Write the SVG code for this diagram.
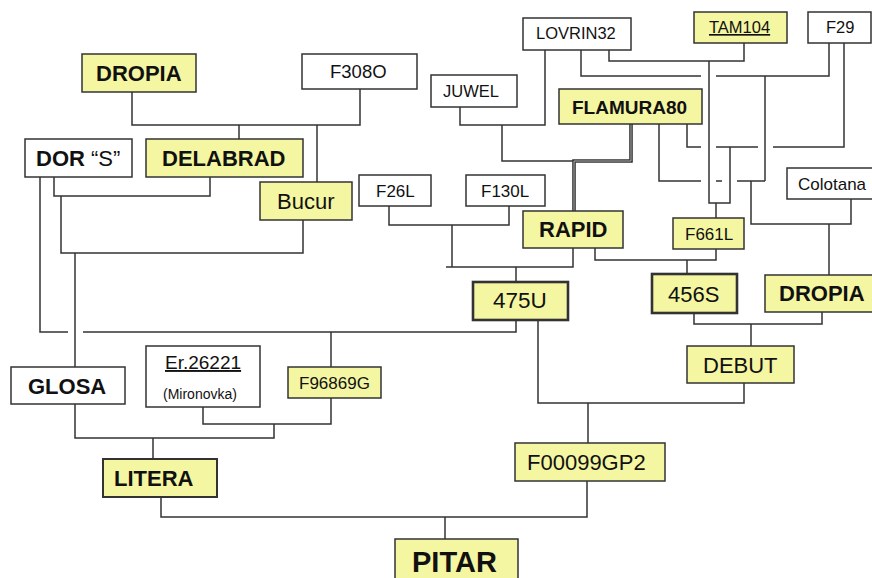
<svg xmlns="http://www.w3.org/2000/svg" width="872" height="578" viewBox="0 0 872 578">
<style>
.w{fill:#ffffff;stroke:#333;stroke-width:1.5}
.y{fill:#f4f6a2;stroke:#333;stroke-width:1.5}
.t{stroke-width:2.6}
text{font-family:"Liberation Sans",Arial,sans-serif;fill:#111}
.b{font-weight:bold;font-size:22px}
.n{font-size:17px}
.m{font-size:22px}
.c path{fill:none;stroke:#333;stroke-width:1.5}
</style>
<rect width="872" height="578" fill="#fff"/>
<g class="c" id="connectors">
<path d="M132,92V125H360V89"/>
<path d="M239,125V139"/>
<path d="M317,125V182"/>
<path d="M54,177V196H210V177"/>
<path d="M61,196V253H303V220"/>
<path d="M75,253V367"/>
<path d="M40,177V332H68M83,332H516V320"/>
<path d="M331,332V367"/>
<path d="M203,407V424H331V398"/>
<path d="M75,404V438H274V424"/>
<path d="M153,438V459"/>
<path d="M161,497V517H587V481"/>
<path d="M445,517V539"/>
<path d="M538,320V403H744V383"/>
<path d="M588,403V443"/>
<path d="M694,313V324H822V312"/>
<path d="M751,324V346"/>
<path d="M389,206V225H509V206"/>
<path d="M452,225V267"/>
<path d="M446,267H573V248"/>
<path d="M516,267V282"/>
<path d="M595,248V260H716V249"/>
<path d="M687,260V274"/>
<path d="M460,107V125H545V50"/>
<path d="M502,125V161H573"/>
<path d="M631,124V161H574V211" style="stroke-width:3.6"/>
<path d="M631,124V161H574V211" style="stroke:#bbb;stroke-width:0.9"/>
<path d="M609,50V61H744V43"/>
<path d="M709,61V203H730V147"/>
<path d="M716,203V218"/>
<path d="M687,124V147H701M716,147H758M773,147H844V43"/>
<path d="M581,50V76H701M716,76H829V43"/>
<path d="M765,76V181"/>
<path d="M659,124V181H701M716,181H722M737,181H765"/>
<path d="M751,181V224H851V199"/>
<path d="M829,224V275"/>
</g>
<g id="LOVRIN32"><rect class="w" x="523" y="18" width="108" height="32"/><text class="n" x="536" y="39" style="font-size:16.5px">LOVRIN32</text></g>
<g id="TAM104"><rect class="y" x="694" y="12" width="93" height="31"/><text class="n" x="709" y="33" style="font-size:16.5px;text-decoration:underline">TAM104</text></g>
<g id="F29"><rect class="w" x="808" y="12" width="63" height="31"/><text class="n" x="826" y="33" style="font-size:16.5px">F29</text></g>
<g id="JUWEL"><rect class="w" x="431" y="75" width="86" height="32"/><text class="n" x="443" y="97" style="font-size:16.5px">JUWEL</text></g>
<g id="FLAMURA80"><rect class="y" x="559" y="89" width="143" height="35"/><text class="b" x="572" y="114" style="font-size:19px">FLAMURA80</text></g>
<g id="DROPIA1"><rect class="y" x="82" y="54" width="114" height="38"/><text class="b" x="96" y="81">DROPIA</text></g>
<g id="F308O"><rect class="w" x="302" y="54" width="115" height="35"/><text class="n" x="330" y="78" style="font-size:18.5px">F308O</text></g>
<g id="DOR_S"><rect class="w" x="25" y="139" width="107" height="38"/><text class="m" x="36" y="166"><tspan font-weight="bold">DOR</tspan> “S”</text></g>
<g id="DELABRAD"><rect class="y" x="146" y="139" width="157" height="38"/><text class="b" x="162" y="166">DELABRAD</text></g>
<g id="Bucur"><rect class="y" x="260" y="182" width="92" height="38"/><text class="m" x="277" y="209">Bucur</text></g>
<g id="F26L"><rect class="w" x="359" y="175" width="72" height="31"/><text class="n" x="376" y="197">F26L</text></g>
<g id="F130L"><rect class="w" x="466" y="175" width="79" height="31"/><text class="n" x="481" y="197">F130L</text></g>
<g id="RAPID"><rect class="y" x="523" y="211" width="100" height="37"/><text class="b" x="539" y="237">RAPID</text></g>
<g id="Colotana"><rect class="w" x="787" y="168" width="86" height="31"/><text class="n" x="798" y="190">Colotana</text></g>
<g id="F661L"><rect class="y" x="673" y="218" width="71" height="31"/><text class="n" x="685" y="240">F661L</text></g>
<g id="U475"><rect class="y t" x="473" y="282" width="95" height="38"/><text class="m" x="493" y="308" style="font-size:22.5px">475U</text></g>
<g id="S456"><rect class="y t" x="652" y="274" width="85" height="39"/><text class="m" x="668" y="302">456S</text></g>
<g id="DROPIA2"><rect class="y" x="765" y="275" width="110" height="37"/><text class="b" x="779" y="301">DROPIA</text></g>
<g id="DEBUT"><rect class="y" x="687" y="346" width="107" height="37"/><text class="m" x="703" y="373">DEBUT</text></g>
<g id="GLOSA"><rect class="w" x="11" y="367" width="114" height="37"/><text class="b" x="28" y="394">GLOSA</text></g>
<g id="Er26221"><rect class="w" x="146" y="346" width="114" height="61"/><text class="n" x="165" y="369" style="font-size:19px;text-decoration:underline">Er.26221</text><text class="n" x="163" y="399" style="font-size:14px">(Mironovka)</text></g>
<g id="F96869G"><rect class="y" x="288" y="367" width="93" height="31"/><text class="n" x="299" y="389">F96869G</text></g>
<g id="LITERA"><rect class="y" x="103" y="459" width="114" height="38" style="stroke-width:2"/><text class="b" x="114" y="486">LITERA</text></g>
<g id="F00099GP2"><rect class="y" x="515" y="443" width="150" height="38"/><text class="m" x="527" y="470">F00099GP2</text></g>
<g id="PITAR"><rect class="y" x="395" y="539" width="123" height="45"/><text class="b" x="412" y="572" style="font-size:29px">PITAR</text></g>
</svg>
